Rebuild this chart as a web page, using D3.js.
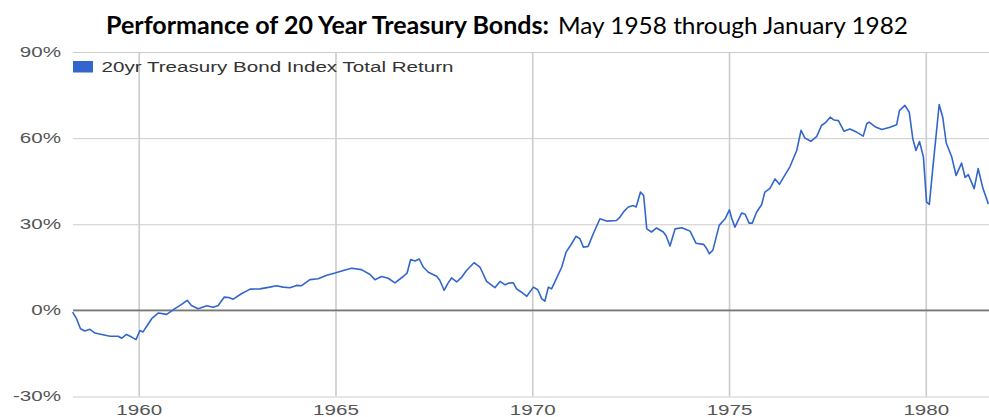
<!DOCTYPE html>
<html>
<head>
<meta charset="utf-8">
<script src="https://cdn.jsdelivr.net/npm/d3@7"></script>
<style>
  body { margin: 0; background: #fff; }
  svg { display: block; font-family: "Liberation Sans", Arial, sans-serif; }
</style>
</head>
<body>
<div id="chart"></div>
<script>
// Cumulative total return (%) of the 20yr bond index.
// dates are decimal years, returns are percent.
const dates = [
  1958.32, 1958.42, 1958.52, 1958.63, 1958.76, 1958.89, 1959.06, 1959.27, 1959.48, 1959.57,
  1959.69, 1959.82, 1959.93, 1960.03, 1960.11, 1960.22, 1960.33, 1960.50, 1960.71, 1960.92,
  1961.09, 1961.23, 1961.34, 1961.51, 1961.73, 1961.89, 1962.02, 1962.17, 1962.29, 1962.40,
  1962.61, 1962.83, 1963.08, 1963.33, 1963.50, 1963.67, 1963.84, 1964.01, 1964.14, 1964.35,
  1964.56, 1964.78, 1964.99, 1965.20, 1965.41, 1965.66, 1965.88, 1966.00, 1966.17, 1966.34,
  1966.51, 1966.72, 1966.82, 1966.91, 1967.02, 1967.13, 1967.23, 1967.36, 1967.57, 1967.65,
  1967.76, 1967.86, 1967.95, 1968.08, 1968.21, 1968.33, 1968.52, 1968.67, 1968.84, 1969.05,
  1969.18, 1969.31, 1969.40, 1969.52, 1969.60, 1969.71, 1969.86, 1970.03, 1970.14, 1970.24,
  1970.32, 1970.41, 1970.49, 1970.58, 1970.75, 1970.86, 1971.00, 1971.11, 1971.21, 1971.30,
  1971.42, 1971.55, 1971.72, 1971.89, 1972.14, 1972.23, 1972.33, 1972.44, 1972.57, 1972.64,
  1972.75, 1972.83, 1972.91, 1973.03, 1973.16, 1973.33, 1973.40, 1973.50, 1973.63, 1973.80,
  1973.91, 1974.01, 1974.16, 1974.35, 1974.41, 1974.50, 1974.59, 1974.75, 1974.90, 1975.01,
  1975.07, 1975.15, 1975.32, 1975.41, 1975.51, 1975.59, 1975.70, 1975.83, 1975.91, 1976.04,
  1976.17, 1976.28, 1976.37, 1976.55, 1976.72, 1976.83, 1976.93, 1977.08, 1977.23, 1977.35,
  1977.46, 1977.57, 1977.67, 1977.78, 1977.92, 1978.07, 1978.24, 1978.41, 1978.50, 1978.56,
  1978.71, 1978.88, 1979.09, 1979.26, 1979.33, 1979.47, 1979.58, 1979.67, 1979.75, 1979.84,
  1979.94, 1980.02, 1980.09, 1980.19, 1980.34, 1980.43, 1980.52, 1980.66, 1980.77, 1980.91,
  1981.00, 1981.08, 1981.23, 1981.33, 1981.45, 1981.59
];
const returns = [
  -0.6, -2.9, -6.4, -7.2, -6.6, -7.9, -8.4, -9.0, -9.0, -9.7,
  -8.4, -9.3, -10.2, -7.0, -7.5, -5.2, -2.9, -0.9, -1.4, 0.6,
  2.1, 3.5, 1.7, 0.6, 1.6, 1.1, 1.7, 4.6, 4.5, 3.9,
  5.8, 7.4, 7.5, 8.1, 8.6, 8.1, 7.9, 8.7, 8.6, 10.7,
  11.0, 12.2, 13.0, 13.9, 14.7, 14.2, 12.5, 10.7, 11.8, 11.2,
  9.6, 11.8, 13.0, 17.7, 17.2, 17.9, 15.1, 13.3, 11.9, 10.5,
  7.0, 9.5, 11.3, 9.9, 11.6, 13.9, 16.6, 15.1, 10.1, 7.9,
  10.1, 8.9, 9.5, 9.6, 7.5, 6.5, 4.9, 8.1, 7.2, 4.1,
  3.2, 8.1, 7.5, 10.1, 15.1, 20.3, 23.2, 25.8, 25.0, 22.0,
  22.3, 26.7, 31.9, 31.1, 31.3, 32.5, 34.5, 36.0, 36.5, 36.0,
  41.2, 40.0, 28.4, 27.3, 28.7, 27.3, 26.0, 22.4, 28.4, 28.8,
  28.2, 27.6, 23.4, 23.0, 22.0, 19.7, 21.0, 29.6, 31.9, 35.0,
  32.0, 29.0, 33.9, 33.5, 30.4, 30.4, 34.2, 36.9, 41.2, 42.5,
  45.8, 43.9, 46.0, 50.1, 55.7, 62.7, 60.0, 58.9, 60.6, 64.4,
  65.5, 67.3, 66.3, 66.1, 62.4, 63.2, 62.1, 60.7, 65.0, 65.6,
  64.0, 63.0, 63.8, 64.7, 69.6, 71.4, 69.0, 59.8, 55.7, 58.8,
  53.4, 37.7, 36.9, 51.1, 71.7, 67.3, 58.3, 53.4, 47.0, 51.3,
  46.3, 47.3, 42.4, 49.4, 42.6, 37.1
];
const yTicks = [-30, 0, 30, 60, 90];
const xTicks = [1960, 1965, 1970, 1975, 1980];
const seriesName = "20yr Treasury Bond Index Total Return";
const titleBold = "Performance of 20 Year Treasury Bonds:";
const titleRest = "May 1958 through January 1982";

const width = 989, height = 417;
const plot = { left: 73, right: 1004.5, top: 52, bottom: 396.5 };
const blue = "#3366cc";
const stretchX = 1.47; // the source picture is stretched sideways

const data = dates.map((d, i) => ({ t: d, v: returns[i] }));

const svg = d3.select("#chart")
    .append("svg")
    .attr("width", width)
    .attr("height", height);

// stretch text horizontally like the source image
function stretch(sel, k) {
    sel.each(function () {
        const w = this.getComputedTextLength();
        d3.select(this).attr("textLength", w * k).attr("lengthAdjust", "spacingAndGlyphs");
    });
}

const x = d3.scaleLinear()
    .domain([1958.33, 1982])
    .range([plot.left, plot.right]);

const y = d3.scaleLinear()
    .domain([-30, 90])
    .range([plot.bottom, plot.top]);

// Y axis with horizontal gridlines
const yAxis = svg.append("g")
    .attr("transform", `translate(${plot.left},0)`)
    .call(d3.axisLeft(y)
        .tickValues(yTicks)
        .tickSize(-(plot.right - plot.left))
        .tickPadding(12)
        .tickFormat(d => d + "%"));
yAxis.select(".domain").remove();
yAxis.selectAll(".tick line")
    .attr("stroke", "#cccccc")
    .attr("stroke-width", 1);
yAxis.selectAll(".tick text")
    .attr("fill", "#555")
    .style("font-size", "14px")
    .call(stretch, stretchX);

// X axis with vertical gridlines
const xAxis = svg.append("g")
    .attr("transform", `translate(0,${plot.bottom})`)
    .call(d3.axisBottom(x)
        .tickValues(xTicks)
        .tickSize(-(plot.bottom - plot.top))
        .tickPadding(8.5)
        .tickFormat(d3.format("d")));
xAxis.select(".domain").remove();
xAxis.selectAll(".tick line")
    .attr("stroke", "#cccccc")
    .attr("stroke-width", 1.6);
xAxis.selectAll(".tick text")
    .attr("fill", "#555")
    .style("font-size", "14px")
    .call(stretch, stretchX);

// zero baseline
svg.append("line")
    .attr("x1", plot.left)
    .attr("x2", plot.right)
    .attr("y1", y(0))
    .attr("y2", y(0))
    .attr("stroke", "#777")
    .attr("stroke-width", 1.6);

// Draw the line
svg.append("path")
    .datum(data)
    .attr("fill", "none")
    .attr("stroke", blue)
    .attr("stroke-width", 1.6)
    .attr("stroke-linejoin", "round")
    .attr("d", d3.line()
        .x(d => x(d.t))
        .y(d => y(d.v)));

// Legend
svg.append("rect")
    .attr("x", 73)
    .attr("y", 61)
    .attr("width", 20)
    .attr("height", 11.5)
    .attr("fill", blue);
svg.append("text")
    .attr("x", 101.5)
    .attr("y", 71.5)
    .attr("fill", "#333")
    .style("font-size", "14px")
    .text(seriesName)
    .call(stretch, stretchX);

// Title
const title = svg.append("g")
    .style("font-family", "Lato, 'Open Sans', sans-serif")
    .style("font-size", "24px")
    .attr("fill", "#000");
title.append("text")
    .attr("x", 106)
    .attr("y", 34)
    .style("font-weight", "bold")
    .attr("textLength", 443)
    .attr("lengthAdjust", "spacingAndGlyphs")
    .text(titleBold);
title.append("text")
    .attr("x", 558)
    .attr("y", 34)
    .attr("textLength", 350)
    .attr("lengthAdjust", "spacingAndGlyphs")
    .text(titleRest);
</script>
</body>
</html>
